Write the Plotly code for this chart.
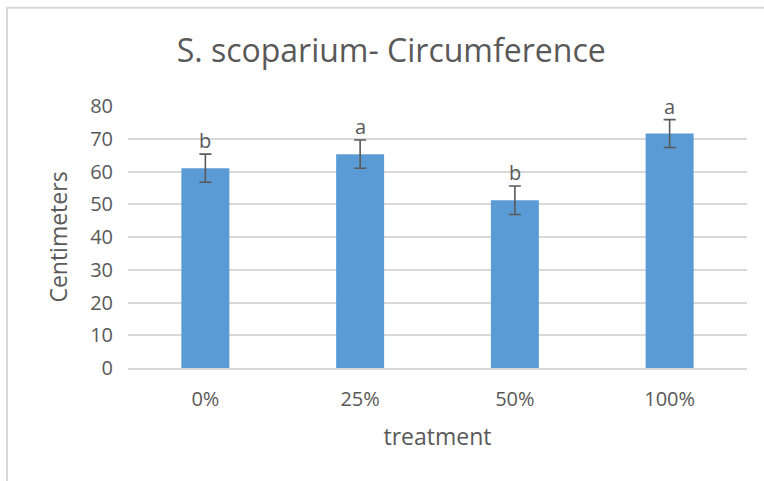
import plotly.graph_objects as go

# data
treatments = ["0%", "25%", "50%", "100%"]
circumference = [61.0, 65.3, 51.2, 71.6]
std_err = [4.3, 4.3, 4.35, 4.25]
letters = ["b", "a", "b", "a"]

TEXT_COLOR = "#595959"
GRID_COLOR = "#d9d9d9"
BAR_COLOR = "#5b9bd5"
FONT = "Open Sans"

fig = go.Figure()
fig.add_trace(
    go.Bar(
        x=treatments,
        y=circumference,
        marker=dict(color=BAR_COLOR, line=dict(width=0)),
        width=0.31,
        error_y=dict(
            type="data",
            array=std_err,
            color=TEXT_COLOR,
            thickness=1.6,
            width=6,
        ),
        showlegend=False,
    )
)

# significance letters above the error bars
for t, v, e, lab in zip(treatments, circumference, std_err, letters):
    fig.add_annotation(
        x=t,
        y=v + e,
        text=lab,
        showarrow=False,
        yanchor="bottom",
        yshift=-2,
        font=dict(family=FONT, size=20, color=TEXT_COLOR),
    )

fig.update_layout(
    width=764,
    height=481,
    template="plotly_white",
    paper_bgcolor="white",
    plot_bgcolor="white",
    margin=dict(l=128, r=17, t=106, b=113),
    font=dict(family=FONT, color=TEXT_COLOR),
    title=dict(
        text="S. scoparium- Circumference",
        x=0.512,
        xanchor="center",
        y=0.895,
        yanchor="middle",
        font=dict(family=FONT, size=32, color=TEXT_COLOR),
    ),
    bargap=0.69,
)
fig.update_xaxes(
    title=dict(text="treatment", font=dict(size=23, color=TEXT_COLOR), standoff=18),
    tickfont=dict(size=20, color=TEXT_COLOR),
    ticklabelstandoff=12,
    showgrid=False,
    showline=True,
    linecolor=GRID_COLOR,
    linewidth=1.5,
    ticks="",
)
fig.update_yaxes(
    title=dict(text="Centimeters", font=dict(size=23, color=TEXT_COLOR), standoff=16),
    tickfont=dict(size=20, color=TEXT_COLOR),
    ticklabelstandoff=14,
    range=[0, 80],
    dtick=10,
    showgrid=True,
    gridcolor=GRID_COLOR,
    gridwidth=1.5,
    zeroline=False,
    showline=False,
    ticks="",
)

# light outer frame, as in the spreadsheet export
fig.add_shape(
    type="rect",
    xref="paper",
    yref="paper",
    x0=(7 - 128) / 619,
    x1=(800 - 128) / 619,
    y0=(368 - 520) / 262.6,
    y1=(368 - 7) / 262.6,
    line=dict(color=GRID_COLOR, width=2),
    layer="below",
)

# drop the default page margin so the figure sits at the window corner
fig.write_html(
    "out.html",
    config={"displayModeBar": False},
    post_script="document.body.style.margin='0';",
)
